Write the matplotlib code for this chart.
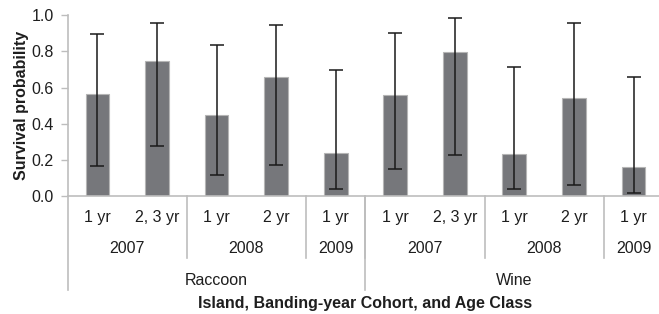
import matplotlib
matplotlib.use("Agg")
import matplotlib.pyplot as plt
import numpy as np

plt.rcParams["font.family"] = ["Liberation Sans", "DejaVu Sans"]
plt.rcParams["font.size"] = 11.5

islands = ["Raccoon"] * 5 + ["Wine"] * 5
years = ["2007", "2007", "2008", "2008", "2009", "2007", "2007", "2008", "2008", "2009"]
ages = ["1 yr", "2, 3 yr", "1 yr", "2 yr", "1 yr", "1 yr", "2, 3 yr", "1 yr", "2 yr", "1 yr"]
survival = [0.563, 0.745, 0.447, 0.659, 0.236, 0.561, 0.799, 0.234, 0.541, 0.159]
ci_upper = [0.898, 0.959, 0.837, 0.948, 0.697, 0.904, 0.985, 0.714, 0.959, 0.660]
ci_lower = [0.166, 0.275, 0.116, 0.172, 0.040, 0.151, 0.229, 0.039, 0.061, 0.018]

AXIS_GRAY = "#bdbdbd"
TEXT = "#1e1e1e"


def groups(keys):
    """Return (label, first index, last index) for runs of equal keys."""
    out = []
    start = 0
    for i in range(1, len(keys) + 1):
        if i == len(keys) or keys[i] != keys[start]:
            out.append((keys[start][-1], start, i - 1))
            start = i
    return out


fig = plt.figure(figsize=(6.59, 3.14), dpi=100)
ax = fig.add_axes([0.1027, 0.3758, 0.9038, 0.5755])

x = np.arange(len(survival))
surv = np.array(survival)
yerr = np.vstack([surv - np.array(ci_lower), np.array(ci_upper) - surv])

ax.bar(x, surv, width=0.4, color="#76777b", edgecolor="#b5b5b5", linewidth=0.8, zorder=2)
ax.errorbar(x, surv, yerr=yerr, fmt="none", ecolor="#1a1a1a", elinewidth=1.1,
            capsize=5, capthick=1.1, zorder=3)

ax.set_xlim(-0.5, len(x) - 0.5)
ax.set_ylim(0, 1.0)
ax.set_yticks(np.arange(0, 1.01, 0.2))
ax.set_yticklabels([f"{v:.1f}" for v in np.arange(0, 1.01, 0.2)], color=TEXT)
ax.set_xticks([])
ax.tick_params(axis="y", direction="out", length=5, color=AXIS_GRAY, width=1, pad=5)
for side in ["top", "right"]:
    ax.spines[side].set_visible(False)
for side in ["left", "bottom"]:
    ax.spines[side].set_color(AXIS_GRAY)
    ax.spines[side].set_linewidth(1.2)

ax.set_ylabel("Survival probability", fontweight="bold", color=TEXT, labelpad=2)

trans = ax.get_xaxis_transform()
row_age, row_year, row_island, row_title = -0.118, -0.293, -0.465, -0.594
year_sep_bottom, island_sep_bottom = -0.343, -0.52

for i, a in enumerate(ages):
    ax.text(x[i], row_age, a, transform=trans, ha="center", va="center", color=TEXT)

year_keys = [(isl, yr) for isl, yr in zip(islands, years)]
for label, s, e in groups(year_keys):
    ax.text((s + e) / 2, row_year, label, transform=trans, ha="center", va="center", color=TEXT)
    if s > 0:
        ax.plot([s - 0.5, s - 0.5], [0, year_sep_bottom], transform=trans,
                color=AXIS_GRAY, lw=1.2, clip_on=False)

island_keys = [(isl,) for isl in islands]
for label, s, e in groups(island_keys):
    ax.text((s + e) / 2, row_island, label, transform=trans, ha="center", va="center", color=TEXT)
    ax.plot([s - 0.5, s - 0.5], [0, island_sep_bottom], transform=trans,
            color=AXIS_GRAY, lw=1.2, clip_on=False)

ax.text(4.5, row_title, "Island, Banding-year Cohort, and Age Class", transform=trans,
        ha="center", va="center", fontweight="bold", color=TEXT)

fig.savefig("out.png", dpi=100)
